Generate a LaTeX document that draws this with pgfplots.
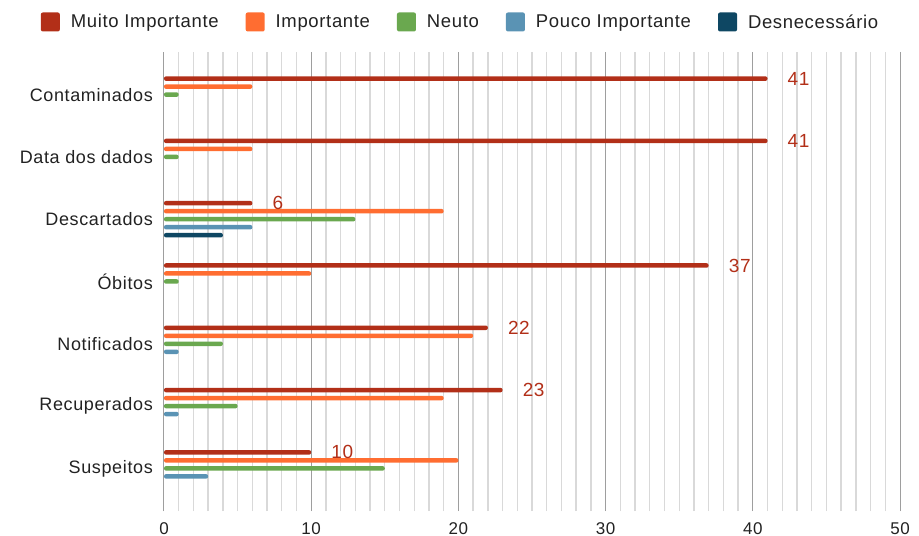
\documentclass[border=0pt]{standalone}
\usepackage{pgfplots}
\pgfplotsset{compat=1.18}
\usepackage{fontspec}
\setmainfont{Liberation Sans}[LetterSpace=3.5]
\definecolor{cMI}{HTML}{B22F18}
\definecolor{cI}{HTML}{FF6D31}
\definecolor{cN}{HTML}{6AA84F}
\definecolor{cPI}{HTML}{5A93B4}
\definecolor{cD}{HTML}{0E4763}
\definecolor{txt}{HTML}{222222}
\pgfplotsset{
  mybar/.style={fill=#1, draw=none, rounded corners=2bp,
    legend image code/.code={\fill[#1, rounded corners=2bp] (0bp,-9.5bp) rectangle (19bp,9.5bp);}},
}
\begin{document}
\begin{tikzpicture}
\path (-164bp,-25bp) rectangle (755bp,511bp);
\begin{axis}[
  at={(0,0)}, anchor=south west,
  scale only axis, width=736bp, height=459bp,
  xbar, bar width=4.5bp,
  xmin=0, xmax=50, ymin=-0.684, ymax=6.684,
  enlarge x limits=false, enlarge y limits=false,
  clip=false,
  axis line style={draw=none},
  major tick length=0pt, minor tick length=0pt,
  xtick={0,10,...,50}, minor x tick num=9,
  xmajorgrids, xminorgrids,
  major grid style={color=black!38, line width=1bp},
  minor grid style={color=black!15, line width=1.4bp},
  extra x ticks={0}, extra x tick labels={},
  extra x tick style={grid style={color=black!85, line width=1.1bp}},
  ytick={0,1,2,3,4,5,6},
  yticklabels={Suspeitos, Recuperados, Notificados, Óbitos, Descartados, Data dos dados, Contaminados},
  /pgf/number format/assume math mode=true,
  yticklabel style={inner sep=0pt, xshift=-11bp, font=\fontsize{18bp}{21bp}\selectfont, text=txt},
  xticklabel style={inner sep=0pt, yshift=-11bp, font=\fontsize{17bp}{20bp}\selectfont, text=txt},
  legend columns=5,
  legend style={draw=none, fill=none, inner sep=0pt,
    at={(0.4015,1.0654)}, anchor=center,
    nodes={inner sep=0pt, anchor=west},
    font=\fontsize{18.5bp}{21bp}\selectfont, text=txt,
    /tikz/every odd column/.append style={column sep=11bp},
    /tikz/every even column/.append style={column sep=27bp}},
]
\addplot[mybar=cMI, bar shift=16bp, nodes near coords,
  nodes near coords style={anchor=west, inner sep=0pt, xshift=20bp, text=cMI, font=\fontsize{19bp}{21bp}\selectfont}]
  coordinates {(41,6) (41,5) (6,4) (37,3) (22,2) (23,1) (10,0)};
\addlegendentry{Muito Importante}
\addplot[mybar=cI, bar shift=8bp]
  coordinates {(6,6) (6,5) (19,4) (10,3) (21,2) (19,1) (20,0)};
\addlegendentry{Importante}
\addplot[mybar=cN, bar shift=0bp]
  coordinates {(1,6) (1,5) (13,4) (1,3) (4,2) (5,1) (15,0)};
\addlegendentry{Neuto}
\addplot[mybar=cPI, bar shift=-8bp]
  coordinates {(6,4) (1,2) (1,1) (3,0)};
\addlegendentry{Pouco Importante}
\addplot[mybar=cD, bar shift=-16bp]
  coordinates {(4,4)};
\addlegendentry{Desnecessário}
\end{axis}
\end{tikzpicture}
\end{document}
